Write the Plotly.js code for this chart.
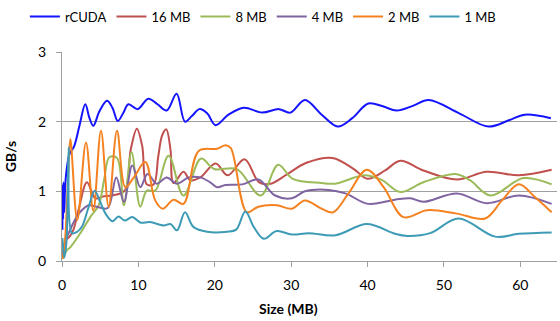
<!DOCTYPE html>
<html>
<head>
<meta charset="utf-8">
<script src="https://cdn.plot.ly/plotly-3.0.1.min.js"></script>
<style>html,body{margin:0;padding:0;background:#fff;}#chart{width:560px;height:321px;}</style>
</head>
<body>
<div id="chart"></div>
<script>
// Series names
const seriesNames = ["rCUDA", "16 MB", "8 MB", "4 MB", "2 MB", "1 MB"];

// rCUDA
const rcudaX = [0.05,0.1,0.15,0.2,0.3,0.4,0.6,1.0,1.6,2.3,3.05,3.6,4.1,4.9,5.9,6.6,7.3,8.0,8.7,9.9,11.3,12.5,13.7,15.0,16.1,17.0,18.0,19.0,20.1,21.8,23.8,26.2,28.4,29.9,31.8,34.0,36.1,38.0,40.1,42.0,43.8,46.0,48.0,52.0,55.8,58.5,60.6,64.0];
const rcudaY = [0.45,1.1,0.6,1.13,0.7,1.05,1.3,1.54,1.65,1.95,2.25,2.05,1.94,2.15,2.3,2.2,2.01,2.12,2.25,2.18,2.33,2.25,2.16,2.4,2.0,2.08,2.18,2.12,1.95,2.1,2.2,2.13,2.18,2.13,2.31,2.1,1.93,2.05,2.26,2.22,2.16,2.23,2.31,2.12,1.93,2.02,2.1,2.05];

// 16 MB
const mb16X = [0.1,0.5,1.0,1.5,2.2,3.27,4.36,5.5,6.5,8.2,9.0,9.8,10.5,11.1,12.0,12.6,13.1,13.65,14.2,14.6,15.9,16.8,18.1,20.1,21.7,23.9,25.8,27.3,29.4,32.0,35.4,38.2,40.0,42.3,44.3,47.3,51.7,55.6,59.8,64.1];
const mb16Y = [0.05,0.3,0.35,0.45,0.75,1.13,0.9,0.93,0.94,1.01,1.6,1.9,1.65,1.1,1.1,1.5,1.8,1.89,1.6,1.12,1.28,1.16,1.2,1.40,1.23,1.46,1.13,1.11,1.24,1.41,1.48,1.32,1.18,1.3,1.44,1.3,1.17,1.28,1.23,1.31];

// 8 MB
const mb8X = [0.1,0.6,1.1,2.4,3.7,4.8,5.5,6.2,7.2,8.1,9.1,10.25,11.1,12.2,13.95,15.9,18.2,19.9,22.9,26.0,28.3,30.2,34.0,35.8,39.6,41.9,44.3,47.3,51.5,53.4,56.1,60.4,64.1];
const mb8Y = [0.03,0.15,0.2,0.4,0.63,0.8,1.16,1.49,1.48,0.8,1.56,0.78,1.01,1.01,1.51,0.94,1.47,1.32,1.32,0.94,1.38,1.18,1.12,1.11,1.23,1.16,0.99,1.13,1.25,1.16,0.94,1.19,1.10];

// 4 MB
const mb4X = [0.1,0.5,0.87,1.5,2.2,3.5,4.8,6.0,7.1,8.1,9.2,10.25,11.2,12.4,13.7,15.05,16.6,18.1,19.4,20.3,21.4,23.6,25.7,27.9,30.1,31.8,34.9,37.1,40.1,43.6,45.6,47.3,51.7,55.6,59.8,64.1];
const mb4Y = [0.05,0.3,0.4,0.55,0.68,0.80,0.77,0.76,1.2,0.85,1.37,1.06,1.25,1.11,1.2,1.11,1.2,1.2,1.13,1.06,1.09,1.1,1.17,0.94,0.9,1.0,1.02,0.97,0.82,0.88,0.9,0.85,0.97,0.83,0.94,0.82];

// 2 MB
const mb2X = [0.1,0.43,0.78,1.09,2.0,3.14,4.1,5.1,6.1,7.2,8.3,9.4,10.9,12.2,13.2,14.6,15.9,17.9,20.3,21.4,22.1,24.2,25.7,28.1,30.1,31.8,34.0,35.5,37.5,39.9,42.1,44.7,47.8,51.7,55.4,57.6,59.8,61.9,64.1];
const mb2Y = [0.03,0.35,1.16,1.75,0.59,1.70,0.72,1.87,0.78,1.87,1.06,1.2,1.42,0.87,0.75,0.88,0.82,1.58,1.61,1.66,1.62,0.70,0.78,0.80,0.75,0.87,0.75,0.70,0.97,1.31,1.06,0.63,0.73,0.68,0.61,0.87,1.10,0.92,0.70];

// 1 MB
const mb1X = [0.05,0.3,0.6,0.87,1.3,2.0,2.6,3.5,4.27,5.0,5.7,6.6,7.4,8.2,9.2,10.3,11.5,13.3,14.2,15.05,16.1,17.2,19.0,21.6,22.8,24.0,25.1,26.4,28.1,30.1,32.3,35.8,39.9,43.6,45.2,48.2,51.9,56.7,59.8,64.1];
const mb1Y = [0.33,0.05,0.3,1.63,0.4,0.42,0.49,0.78,1.01,0.85,0.68,0.57,0.64,0.58,0.63,0.55,0.56,0.51,0.53,0.44,0.70,0.49,0.42,0.42,0.45,0.71,0.49,0.32,0.43,0.38,0.40,0.37,0.53,0.39,0.36,0.40,0.61,0.35,0.39,0.41];

// Axis ticks
const xTicks = [0,10,20,30,40,50,60];
const yTicks = [0,1,2,3];

const colors = ["#1414ff", "#c0504d", "#9bbb59", "#8064a2", "#f58220", "#3d9bb5"];
const xs = [rcudaX, mb16X, mb8X, mb4X, mb2X, mb1X];
const ys = [rcudaY, mb16Y, mb8Y, mb4Y, mb2Y, mb1Y];

const traces = seriesNames.map((n, i) => ({
  type: "scatter", mode: "lines", name: n,
  x: xs[i], y: ys[i],
  line: {color: colors[i], width: 2, shape: "spline", smoothing: 1}
}));

const FONT = "Lato, 'Open Sans', sans-serif";
const layout = {
  width: 560, height: 321,
  margin: {l: 62, r: 3, t: 51, b: 60, pad: 0},
  paper_bgcolor: "#fff", plot_bgcolor: "#fff",
  font: {family: FONT, size: 14, color: "#000"},
  showlegend: true,
  legend: {orientation: "h", x: -0.075, xanchor: "left", y: 1.235, yanchor: "top",
           font: {family: FONT, size: 13, color: "#000"}, bgcolor: "rgba(0,0,0,0)",
           traceorder: "normal", tracegroupgap: 0},
  xaxis: {range: [0, 64.8], tickvals: xTicks, ticktext: xTicks.map(String),
          showgrid: false, zeroline: false, showline: true, linecolor: "#a0a0a0", linewidth: 1,
          ticks: "outside", ticklen: 5, tickcolor: "#a0a0a0", ticklabelstandoff: 6,
          tickfont: {family: FONT, size: 14, color: "#000"}},
  yaxis: {range: [0, 3], tickvals: yTicks, ticktext: yTicks.map(String),
          showgrid: true, gridcolor: "#a0a0a0", gridwidth: 1, zeroline: false,
          showline: true, linecolor: "#a0a0a0", linewidth: 1,
          ticks: "outside", ticklen: 5, tickcolor: "#a0a0a0", ticklabelstandoff: 7,
          tickfont: {family: FONT, size: 14, color: "#000"},
          title: {text: "<b>GB/s</b>", font: {family: FONT, size: 14, color: "#000"}, standoff: 18}},
  annotations: [{text: "<b>Size (MB)</b>", xref: "paper", yref: "paper", x: 0.457, y: -0.2286,
                 xanchor: "center", yanchor: "middle", showarrow: false,
                 font: {family: FONT, size: 14, color: "#000"}}]
};

Plotly.newPlot("chart", traces, layout, {displayModeBar: false, staticPlot: true});
</script>
</body>
</html>
